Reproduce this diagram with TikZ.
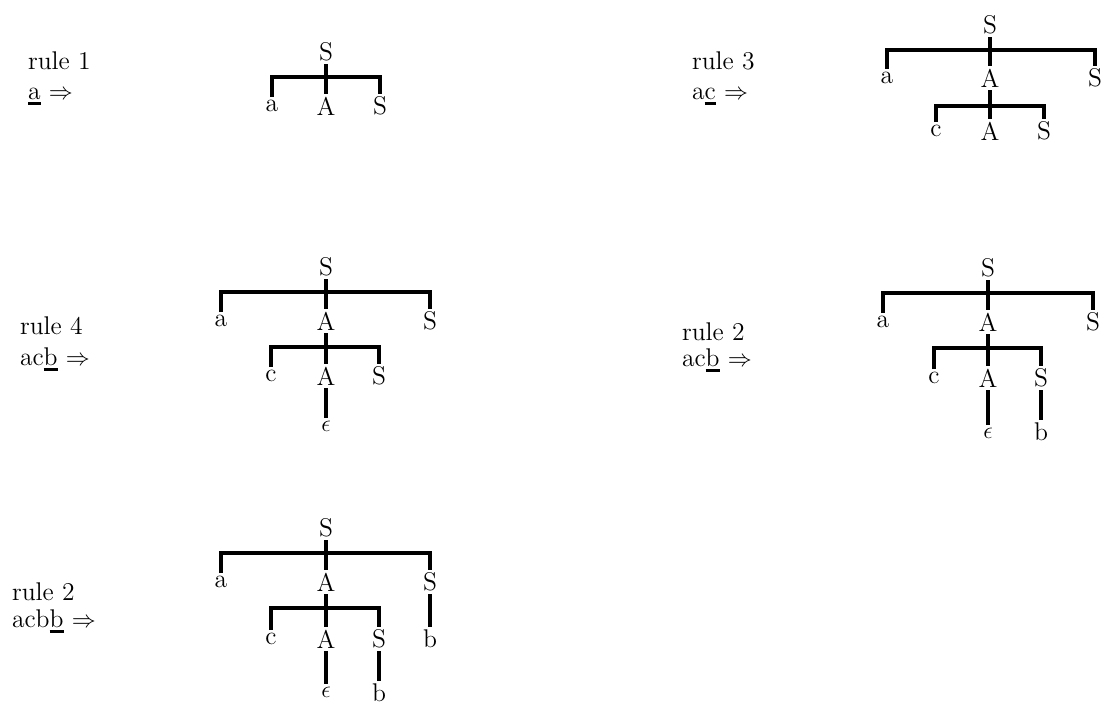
\documentclass[tikz,border=0pt]{standalone}
\newcommand\myul[1]{\leavevmode\setbox0\hbox{#1}\rlap{\rule[-2.8pt]{\wd0}{1.1pt}}\box0\relax}
\begin{document}
\begin{tikzpicture}[x=0.5pt,y=-0.5pt,
  every node/.style={inner sep=1.5pt,outer sep=0pt,font=\fontsize{12.8}{15}\selectfont},
  br/.style={line width=1.8pt},
  rl/.style={anchor=base west,inner sep=0pt}]
\useasboundingbox (0,0) rectangle (1117,706);

% ---------- tree 1 ----------
\node[rl] (r1a) at (28,69) {rule 1};
\node[rl] (r1b) at (28,99) {\myul{a} $\Rightarrow$};
\node (aS) at (326,52) {S};
\node (aa) at (272,106) {a};
\node (aA) at (326,106) {A};
\node (as) at (380,106) {S};
\coordinate (ab) at (326,77);
\draw[br] (aa.north) |- (ab) -| (as.north);
\draw[br] (aS.south) -- (aA.north);

% ---------- tree 3 ----------
\node[rl] (r3a) at (692,69) {rule 3};
\node[rl] (r3b) at (692,99) {a\myul{c} $\Rightarrow$};
\node (bS) at (990,25) {S};
\node (ba) at (887,78) {a};
\node (bA) at (990,78) {A};
\node (bs) at (1095,78) {S};
\coordinate (bb) at (990,50);
\draw[br] (ba.north) |- (bb) -| (bs.north);
\draw[br] (bS.south) -- (bA.north);
\node (bc) at (936,131) {c};
\node (bA2) at (990,131) {A};
\node (bs2) at (1044,131) {S};
\coordinate (bb2) at (990,106);
\draw[br] (bc.north) |- (bb2) -| (bs2.north);
\draw[br] (bA.south) -- (bA2.north);

% ---------- tree 4 ----------
\node[rl] (r4a) at (20,334) {rule 4};
\node[rl] (r4b) at (20,365) {ac\myul{b} $\Rightarrow$};
\node (cS) at (326,267) {S};
\node (ca) at (221,321) {a};
\node (cA) at (326,321) {A};
\node (cs) at (430,321) {S};
\coordinate (cb) at (326,292);
\draw[br] (ca.north) |- (cb) -| (cs.north);
\draw[br] (cS.south) -- (cA.north);
\node (cc) at (271,376) {c};
\node (cA2) at (326,376) {A};
\node (cs2) at (379,376) {S};
\coordinate (cb2) at (326,347);
\draw[br] (cc.north) |- (cb2) -| (cs2.north);
\draw[br] (cA.south) -- (cA2.north);
\node (ce) at (326,426) {$\epsilon$};
\draw[br] (cA2.south) -- (ce.north);

% ---------- tree 5 ----------
\node[rl] (r5a) at (682,340) {rule 2};
\node[rl] (r5b) at (682,366) {ac\myul{b} $\Rightarrow$};
\node (dS) at (988,268) {S};
\node (da) at (883,322) {a};
\node (dA) at (988,322) {A};
\node (ds) at (1093,322) {S};
\coordinate (db) at (988,293);
\draw[br] (da.north) |- (db) -| (ds.north);
\draw[br] (dS.south) -- (dA.north);
\node (dc) at (934,378) {c};
\node (dA2) at (988,378) {A};
\node (ds2) at (1041,378) {S};
\coordinate (db2) at (988,348);
\draw[br] (dc.north) |- (db2) -| (ds2.north);
\draw[br] (dA.south) -- (dA2.north);
\node (de) at (988,433) {$\epsilon$};
\node (dbb) at (1041,432) {b};
\draw[br] (dA2.south) -- (de.north);
\draw[br] (ds2.south) -- (dbb.north);

% ---------- tree 6 ----------
\node[rl] (r6a) at (12,600) {rule 2};
\node[rl] (r6b) at (12,627) {acb\myul{b} $\Rightarrow$};
\node (eS) at (326,528) {S};
\node (ea) at (221,582) {a};
\node (eA) at (326,582) {A};
\node (es) at (430,582) {S};
\coordinate (eb) at (326,553);
\draw[br] (ea.north) |- (eb) -| (es.north);
\draw[br] (eS.south) -- (eA.north);
\node (ec) at (271,639) {c};
\node (eA2) at (326,639) {A};
\node (es2) at (379,639) {S};
\node (eb1) at (430,639) {b};
\coordinate (eb2) at (326,608);
\draw[br] (ec.north) |- (eb2) -| (es2.north);
\draw[br] (eA.south) -- (eA2.north);
\draw[br] (es.south) -- (eb1.north);
\node (ee) at (326,692) {$\epsilon$};
\node (ebb) at (379,693) {b};
\draw[br] (eA2.south) -- (ee.north);
\draw[br,line width=2.2pt] (es2.south) -- (ebb.north);
\end{tikzpicture}
\end{document}
